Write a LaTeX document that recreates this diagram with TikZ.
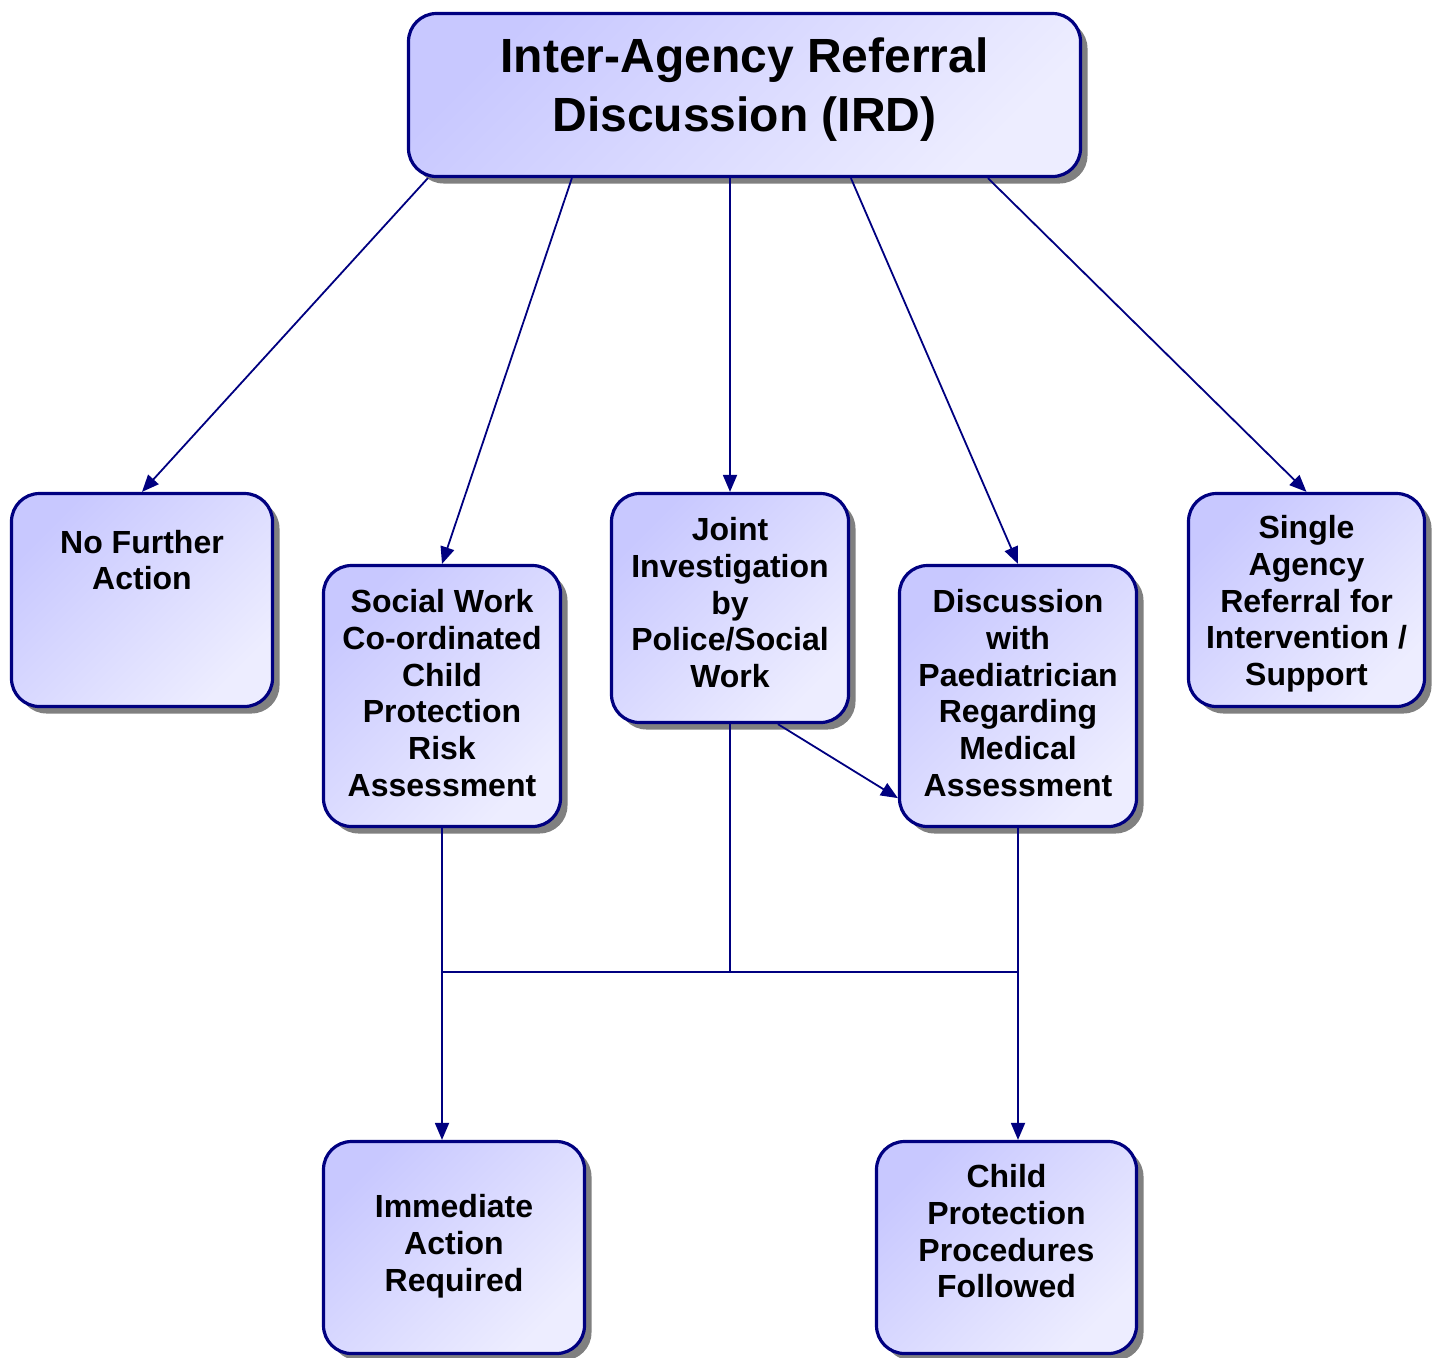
\documentclass[tikz,border=0pt]{standalone}
\usepackage{fontspec}
\setmainfont{Liberation Sans}
\usetikzlibrary{arrows.meta,shadows}
\definecolor{navy}{RGB}{0,0,128}
\definecolor{boxtop}{RGB}{200,200,255}
\definecolor{boxbot}{RGB}{237,237,255}
\newlength{\boxrad}
\setlength{\boxrad}{14pt}

\begin{document}
\begin{tikzpicture}[x=0.5pt,y=-0.5pt,
    box/.style={draw=navy,line width=1.6pt,rounded corners=\boxrad,
        top color=boxtop,bottom color=boxbot,shading angle=45,
        drop shadow={shadow xshift=3.5pt,shadow yshift=-3.5pt,fill=black!50,opacity=1},
        align=center,inner sep=2pt,text depth=2pt,
        font=\bfseries\fontsize{16pt}{18.4pt}\selectfont},
    arr/.style={draw=navy,line width=0.9pt,-{Triangle[length=8.5pt,width=7pt]}},
    wire/.style={draw=navy,line width=0.9pt}]
            \useasboundingbox (0,0) rectangle (1440,1357);
            \node[box,minimum width=336pt,minimum height=81.5pt,text height=42pt,text depth=6pt,
                font=\bfseries\fontsize{24pt}{29.5pt}\selectfont] (ird) at (744.5,95) {Inter-Agency Referral\\Discussion (IRD)};
            \node[box,minimum width=130.5pt,minimum height=106.5pt,text height=4.8pt,text depth=15pt] (nfa) at (142,600) {No Further\\Action};
            \node[box,minimum width=118.5pt,minimum height=130.5pt,text height=102.5pt] (sw) at (442,696) {Social Work\\Co-ordinated\\Child\\Protection\\Risk\\Assessment};
            \node[box,minimum width=118.5pt,minimum height=114.5pt,text height=81.7pt] (joint) at (730,608) {Joint\\Investigation\\by\\Police/Social\\Work};
            \node[box,minimum width=118.5pt,minimum height=130.5pt,text height=102.5pt] (disc) at (1018,696) {Discussion\\with\\Paediatrician\\Regarding\\Medical\\Assessment};
            \node[box,minimum width=118pt,minimum height=106.5pt,text height=87.7pt] (single) at (1306.5,600) {Single\\Agency\\Referral for\\Intervention /\\Support};
            \node[box,minimum width=130.5pt,minimum height=106pt,text height=45.6pt] (imm) at (454,1247.5) {Immediate\\Action\\Required};
            \node[box,minimum width=130pt,minimum height=106pt,text height=52.4pt] (cp) at (1006.5,1247.5) {Child\\Protection\\Procedures\\Followed};
            \draw[arr] ([xshift=10.5pt]ird.south west) -- (nfa.north);
            \draw[arr] ([xshift=82.5pt]ird.south west) -- (sw.north);
            \draw[arr] (ird.south -| joint.north) -- (joint.north);
            \draw[arr] ([xshift=222pt]ird.south west) -- (disc.north);
            \draw[arr] ([xshift=290.5pt]ird.south west) -- (single.north);
            \draw[arr] ([xshift=84pt]joint.south west) -- ([yshift=15pt]disc.south west);
            \coordinate (bus) at (joint.south |- 0,972);
            \draw[wire] (sw.south) |- (bus);
            \draw[wire] (disc.south) |- (bus);
            \draw[wire] (joint.south) -- (bus);
            \draw[arr] (sw.south |- bus) -- (sw.south |- imm.north);
            \draw[arr] (disc.south |- bus) -- (disc.south |- cp.north);
\end{tikzpicture}
\end{document}
